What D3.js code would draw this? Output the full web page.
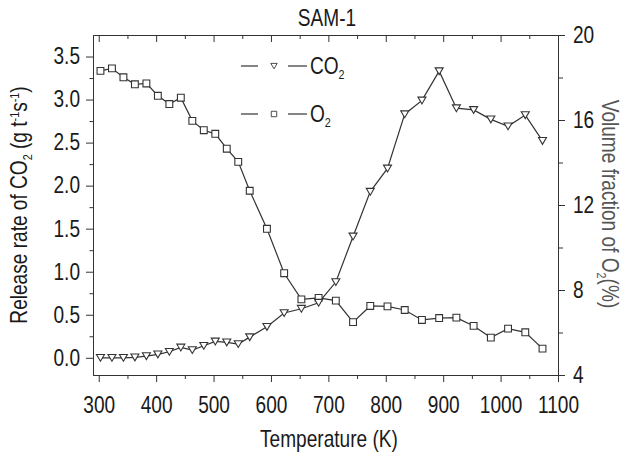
<!DOCTYPE html>
<head>
  <meta charset="utf-8">
  <style>
    body { margin: 0; background: #fff; }
    svg text { font-family: "Liberation Sans", Arial, sans-serif; fill: #1a1a1a; }
    svg .domain, svg .tick line { stroke: #333; stroke-width: 1px; }
    svg .path { fill: none; stroke: #333; stroke-width: 1.2px; }
    svg .mark { fill: #fff; stroke: #333; stroke-width: 1.1px; }
  </style>
</head>

<body>
<script src="https://d3js.org/d3.v7.min.js"></script>

<script>
  // data
  var temps = [303, 323, 343, 363, 383, 403, 423, 443, 463, 483, 503, 523, 543, 563,
               593, 623, 653, 683, 713, 743, 773, 803, 833, 863, 893, 923, 953, 983, 1013, 1043, 1073];
  var co2 = [0, 0, 0, 0.005, 0.02, 0.04, 0.07, 0.12, 0.09, 0.14, 0.19, 0.18, 0.16, 0.24,
             0.36, 0.52, 0.57, 0.64, 0.88, 1.41, 1.93, 2.20, 2.83, 2.99, 3.33, 2.90, 2.88, 2.77, 2.69, 2.82, 2.52];
  var o2 = [18.31, 18.43, 18.01, 17.68, 17.72, 17.14, 16.75, 17.05, 15.96, 15.52, 15.35, 14.65, 14.03, 12.67,
            10.88, 8.79, 7.56, 7.63, 7.50, 6.49, 7.25, 7.23, 7.06, 6.59, 6.68, 6.70, 6.31, 5.76, 6.18, 6.01, 5.24];

  var xTicks = [300, 400, 500, 600, 700, 800, 900, 1000, 1100];
  var xMinor = [350, 450, 550, 650, 750, 850, 950, 1050];
  var yLTicks = [0, 0.5, 1.0, 1.5, 2.0, 2.5, 3.0, 3.5];
  var yLMinor = [0.25, 0.75, 1.25, 1.75, 2.25, 2.75, 3.25];
  var yRTicks = [4, 8, 12, 16, 20];
  var yRMinor = [6, 10, 14, 18];

  var W = 626, H = 457;
  var pLeft = 93, pRight = 558, pTop = 35, pBottom = 375;  // plot frame in pixels
  var sx = 0.83;    // the font in the figure is a narrow one
  var fs = 23;      // font size of axis texts

  var svg = d3.select("body").append("svg")
      .attr("width", W)
      .attr("height", H);

  var xScale = d3.scaleLinear().domain([290, 1100]).range([pLeft, pRight]);
  var yLeft = d3.scaleLinear().domain([-0.2, 3.75]).range([pBottom, pTop]);
  var yRight = d3.scaleLinear().domain([4, 20]).range([pBottom, pTop]);

  function narrow(sel, dx) {
    sel.attr("transform", "scale(" + sx + ",1)")
       .style("font-size", fs + "px");
    if (dx !== undefined) sel.attr("x", dx / sx);
  }

  // bottom axis
  svg.append("g")
      .attr("transform", "translate(0," + pBottom + ")")
      .call(d3.axisBottom(xScale).tickValues(xMinor).tickSize(4).tickFormat("").tickSizeOuter(0));
  svg.append("g")
      .attr("transform", "translate(0," + pBottom + ")")
      .call(d3.axisBottom(xScale).tickValues(xTicks).tickSize(7).tickFormat(d3.format("d")).tickSizeOuter(0))
    .selectAll(".tick text")
      .call(narrow)
      .attr("y", 22)
      .attr("dy", "0.71em");

  // top axis, ticks inward
  svg.append("g")
      .attr("transform", "translate(0," + pTop + ")")
      .call(d3.axisBottom(xScale).tickValues(xMinor).tickSize(4).tickFormat("").tickSizeOuter(0));
  svg.append("g")
      .attr("transform", "translate(0," + pTop + ")")
      .call(d3.axisBottom(xScale).tickValues(xTicks).tickSize(7).tickFormat("").tickSizeOuter(0));

  // left axis
  svg.append("g")
      .attr("transform", "translate(" + pLeft + ",0)")
      .call(d3.axisLeft(yLeft).tickValues(yLMinor).tickSize(3.5).tickFormat("").tickSizeOuter(0));
  svg.append("g")
      .attr("transform", "translate(" + pLeft + ",0)")
      .call(d3.axisLeft(yLeft).tickValues(yLTicks).tickSize(7).tickFormat(d3.format(".1f")).tickSizeOuter(0))
    .selectAll(".tick text")
      .call(narrow, -13);

  // right axis
  svg.append("g")
      .attr("transform", "translate(" + pRight + ",0)")
      .call(d3.axisRight(yRight).tickValues(yRMinor).tickSize(5).tickFormat("").tickSizeOuter(0));
  svg.append("g")
      .attr("transform", "translate(" + pRight + ",0)")
      .call(d3.axisRight(yRight).tickValues(yRTicks).tickSize(7).tickSizeOuter(0))
    .selectAll(".tick text")
      .call(narrow, 15);

  svg.selectAll(".tick text").style("fill", "#1a1a1a");

  // labels
  function label(x, y, rot, anchor, size) {
    return svg.append("text")
        .attr("transform", "translate(" + x + "," + y + ") rotate(" + rot + ") scale(" + sx + ",1)")
        .style("text-anchor", anchor)
        .style("font-size", size + "px");
  }

  label(327, 26, 0, "middle", fs).text("SAM-1");
  label(329, 447, 0, "middle", fs).text("Temperature (K)");

  var yl = label(27, 205, -90, "middle", fs);
  yl.append("tspan").text("Release rate of CO");
  yl.append("tspan").attr("dy", 5).style("font-size", "13px").text("2");
  yl.append("tspan").attr("dy", -5).text(" (g t");
  yl.append("tspan").attr("dy", -8).style("font-size", "13px").text("-1");
  yl.append("tspan").attr("dy", 8).text("s");
  yl.append("tspan").attr("dy", -8).style("font-size", "13px").text("-1");
  yl.append("tspan").attr("dy", 8).text(")");

  var yr = label(602, 204, 90, "middle", fs).style("fill", "#555");
  yr.append("tspan").text("Volume fraction of O");
  yr.append("tspan").attr("dy", 5).style("font-size", "13px").text("2");
  yr.append("tspan").attr("dy", -5).text("(%)");

  // series
  var tri = "M-4,-3.3L4,-3.3L0,3.5Z";
  var sq = "M-3.4,-3.4H3.4V3.4H-3.4Z";

  var lineCO2 = d3.line()
    .x(function (d, i) { return xScale(temps[i]); })
    .y(function (d) { return yLeft(d); });
  var lineO2 = d3.line()
    .x(function (d, i) { return xScale(temps[i]); })
    .y(function (d) { return yRight(d); });

  svg.append("path").classed("path", true).attr("d", lineO2(o2));
  svg.append("path").classed("path", true).attr("d", lineCO2(co2));

  svg.selectAll(".sq").data(o2).enter().append("path")
      .classed("mark", true)
      .attr("d", sq)
      .attr("transform", function (d, i) { return "translate(" + xScale(temps[i]) + "," + yRight(d) + ")"; });

  svg.selectAll(".tri").data(co2).enter().append("path")
      .classed("mark", true)
      .attr("d", tri)
      .attr("transform", function (d, i) { return "translate(" + xScale(temps[i]) + "," + yLeft(d) + ")"; });

  // legend
  var legend = [
    { y: 66, shape: tri, name: "CO" },
    { y: 114, shape: sq, name: "O" }
  ];
  legend.forEach(function (l) {
    svg.append("line").attr("x1", 241).attr("x2", 258).attr("y1", l.y).attr("y2", l.y)
        .style("stroke", "#333").style("stroke-width", "1.2px");
    svg.append("line").attr("x1", 288).attr("x2", 307).attr("y1", l.y).attr("y2", l.y)
        .style("stroke", "#333").style("stroke-width", "1.2px");
    svg.append("path").classed("mark", true).attr("d", l.shape)
        .attr("transform", "translate(274," + l.y + ") scale(0.8)");
    var t = label(310, l.y + 8, 0, "start", fs);
    t.append("tspan").text(l.name);
    t.append("tspan").attr("dy", 5).style("font-size", "13px").text("2");
  });
</script>
</body>
</html>
